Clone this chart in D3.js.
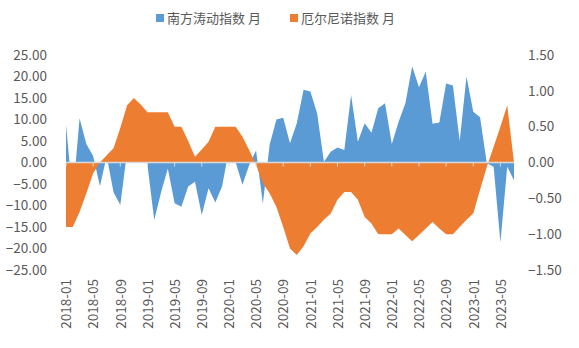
<!DOCTYPE html>
<html>
<head>
<meta charset="utf-8">
<script src="https://cdn.jsdelivr.net/npm/d3@7"></script>
<style>
  body { margin: 0; background: #fff; }
  text { font-family: "Noto Sans CJK SC", "Noto Sans", sans-serif; fill: #595959; }
</style>
</head>
<body>
<div id="chart"></div>
<script>
const months = [
  "2018-01","2018-02","2018-03","2018-04","2018-05","2018-06","2018-07","2018-08","2018-09","2018-10","2018-11","2018-12",
  "2019-01","2019-02","2019-03","2019-04","2019-05","2019-06","2019-07","2019-08","2019-09","2019-10","2019-11","2019-12",
  "2020-01","2020-02","2020-03","2020-04","2020-05","2020-06","2020-07","2020-08","2020-09","2020-10","2020-11","2020-12",
  "2021-01","2021-02","2021-03","2021-04","2021-05","2021-06","2021-07","2021-08","2021-09","2021-10","2021-11","2021-12",
  "2022-01","2022-02","2022-03","2022-04","2022-05","2022-06","2022-07","2022-08","2022-09","2022-10","2022-11","2022-12",
  "2023-01","2023-02","2023-03","2023-04","2023-05","2023-06","2023-07"
];

// 南方涛动指数 (left axis)
const soi = [
  8.7, -8.0, 10.3, 4.3, 1.5, -5.5, 1.5, -6.9, -9.9, 2.5, -0.1, 9.1,
  -0.6, -13.4, -7.0, -1.4, -9.5, -10.3, -5.6, -4.5, -12.2, -6.0, -9.3, -5.5,
  3.0, 0.0, -5.2, -0.5, 2.8, -9.6, 4.1, 10.0, 10.4, 4.5, 9.1, 16.9,
  16.5, 11.4, 0.2, 2.5, 3.5, 2.9, 15.7, 4.8, 9.1, 6.9, 12.6, 13.8,
  4.3, 9.5, 13.8, 22.4, 17.5, 21.1, 9.0, 9.3, 18.4, 17.9, 5.0, 20.0,
  11.8, 10.5, -0.2, -1.0, -18.6, -1.0, -4.1
];

// 厄尔尼诺指数 (right axis)
const nino = [
  -0.9, -0.9, -0.69, -0.43, -0.15, 0.0, 0.1, 0.2, 0.48, 0.8, 0.9, 0.81,
  0.7, 0.7, 0.7, 0.7, 0.5, 0.5, 0.3, 0.08, 0.18, 0.29, 0.5, 0.5,
  0.5, 0.5, 0.36, 0.17, -0.03, -0.29, -0.43, -0.62, -0.9, -1.2, -1.29, -1.17,
  -0.99, -0.9, -0.8, -0.71, -0.52, -0.41, -0.41, -0.52, -0.76, -0.85, -1.0, -1.0,
  -1.0, -0.92, -1.01, -1.1, -1.01, -0.92, -0.83, -0.92, -1.0, -1.0, -0.9, -0.8,
  -0.71, -0.38, -0.06, 0.22, 0.5, 0.8, 0.0
];

const leftTicks = [-25, -20, -15, -10, -5, 0, 5, 10, 15, 20, 25];
const rightTicks = [-1.5, -1, -0.5, 0, 0.5, 1, 1.5];
const xTicks = months.filter((d, i) => i % 4 === 0);

const svg = d3.select("#chart").append("svg")
  .attr("width", 579)
  .attr("height", 348);

const x = d3.scalePoint().domain(months).range([66, 514]);
const yL = d3.scaleLinear().domain([-25, 25]).range([270, 55]);
const yR = d3.scaleLinear().domain([-1.5, 1.5]).range([270, 55]);

const areaL = d3.area()
  .x((d, i) => x(months[i]))
  .y0(yL(0))
  .y1(d => yL(d));

const areaR = d3.area()
  .x((d, i) => x(months[i]))
  .y0(yR(0))
  .y1(d => yR(d));

svg.append("path")
  .datum(soi)
  .attr("d", areaL)
  .style("fill", "#5B9BD5");

svg.append("path")
  .datum(nino)
  .attr("d", areaR)
  .style("fill", "#ED7D31");

// category axis line at zero
svg.append("line")
  .attr("x1", x(months[0])).attr("x2", x(months[months.length - 1]))
  .attr("y1", yL(0)).attr("y2", yL(0))
  .style("stroke", "#D9D9D9")
  .style("stroke-width", 1.5);

svg.selectAll("line.tick")
  .data(xTicks)
  .enter().append("line")
  .attr("class", "tick")
  .attr("x1", d => x(d)).attr("x2", d => x(d))
  .attr("y1", yL(0)).attr("y2", yL(0) + 4)
  .style("stroke", "#D9D9D9")
  .style("stroke-width", 1);

// left axis
const gl = svg.append("g")
  .attr("transform", "translate(47,0)")
  .call(d3.axisLeft(yL).tickValues(leftTicks).tickFormat(d3.format(".2f")).tickSize(0).tickPadding(0));
gl.select(".domain").remove();

// right axis
const gr = svg.append("g")
  .attr("transform", "translate(528,0)")
  .call(d3.axisRight(yR).tickValues(rightTicks).tickFormat(d3.format(".2f")).tickSize(0).tickPadding(0));
gr.select(".domain").remove();

// month labels at the bottom
const gx = svg.append("g")
  .attr("transform", "translate(0,275)")
  .call(d3.axisBottom(x).tickValues(xTicks).tickSize(0));
gx.select(".domain").remove();
gx.selectAll("text")
  .attr("transform", "rotate(-90)")
  .attr("text-anchor", "end")
  .attr("x", -4)
  .attr("y", 0)
  .attr("dy", "0.35em");

svg.selectAll(".tick text")
  .style("font-size", "13.5px")
  .style("fill", "#595959")
  .style("font-family", "'Noto Sans CJK SC', sans-serif");

// legend
const legend = [
  { name: "南方涛动指数 月", color: "#5B9BD5", x: 156 },
  { name: "厄尔尼诺指数 月", color: "#ED7D31", x: 290 }
];
const lg = svg.selectAll("g.legend")
  .data(legend)
  .enter().append("g")
  .attr("class", "legend")
  .attr("transform", d => `translate(${d.x},18)`);
lg.append("rect")
  .attr("x", 0).attr("y", -4)
  .attr("width", 8).attr("height", 8)
  .style("fill", d => d.color);
lg.append("text")
  .attr("x", 11)
  .attr("dy", "0.35em")
  .style("font-size", "13px")
  .text(d => d.name);
</script>
</body>
</html>
